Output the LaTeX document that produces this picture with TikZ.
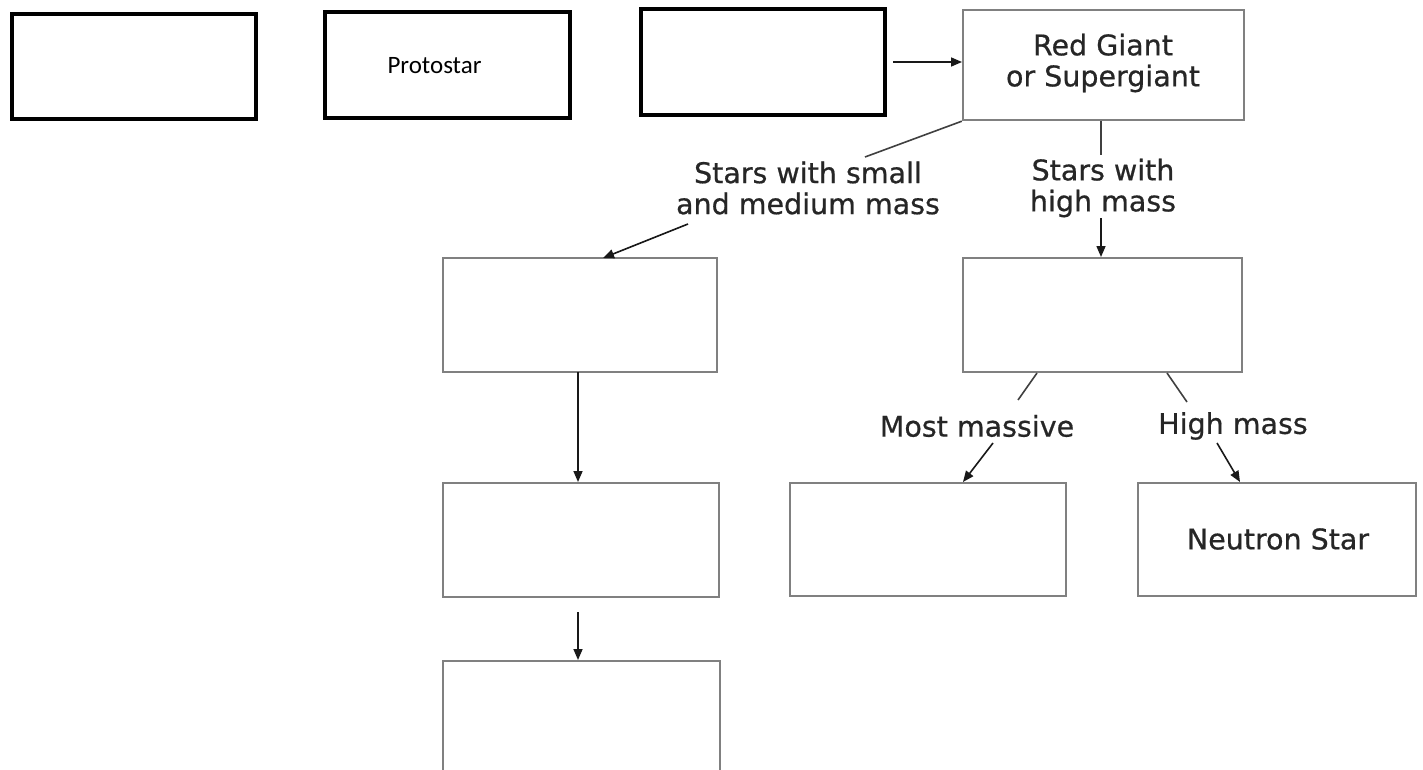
\documentclass[tikz,border=0pt]{standalone}
\usepackage{fontspec}
\setmainfont{DejaVu Sans}
\newfontfamily\lblfont[FakeBold=0.6]{DejaVu Sans}
\newfontfamily\calib{Carlito}
\usetikzlibrary{arrows.meta}
\tikzset{
  thickbox/.style={draw=black, line width=4pt, inner sep=0pt},
  graybox/.style={draw=black!50, line width=2.4pt, inner sep=0pt, fill=white},
  lbl/.style={align=center, font=\lblfont\fontsize{28.5}{31}\selectfont, text=black!85, inner sep=0pt},
  conn/.style={draw=black!75, line width=1.6pt},
  arr/.style={draw=black!90, line width=1.6pt, -{Triangle[length=11pt,width=9pt]}},
}
\begin{document}
\begin{tikzpicture}[x=1pt,y=-1pt]
\useasboundingbox (0,0) rectangle (1423,770);
\clip (0,0) rectangle (1423,770);
\fill[white] (0,0) rectangle (1423,770);
% top row
\node[thickbox, minimum width=244pt, minimum height=105pt] (b1) at (134,66.5) {};
\node[thickbox, minimum width=245pt, minimum height=106pt] (b2) at (447.5,65) {};
\node[font=\calib\fontsize{25}{30}\selectfont, inner sep=0pt] (pt) at (434.5,66) {Protostar};
\node[thickbox, minimum width=244pt, minimum height=106pt] (b3) at (763,62) {};
\node[graybox, minimum width=281pt, minimum height=110pt] (rg) at (1103.5,65) {};
\node[lbl] (rgt) at (1103,63) {Red Giant\\or Supergiant};
% second row
\node[graybox, minimum width=274pt, minimum height=114pt] (l1) at (580,315) {};
\node[graybox, minimum width=279pt, minimum height=114pt] (r1) at (1102.5,315) {};
% third row
\node[graybox, minimum width=276pt, minimum height=114pt] (l2) at (581,540) {};
\node[graybox, minimum width=276pt, minimum height=113pt] (r2) at (928,539.5) {};
\node[graybox, minimum width=278pt, minimum height=113pt] (r3) at (1277,539.5) {};
\node[lbl] (nst) at (1278,539) {Neutron Star};
% fourth row
\node[graybox, minimum width=277pt, minimum height=130pt] (l3) at (581.5,726) {};
% labels
\node[lbl] (lsm) at (808,188) {Stars with small\\and medium mass};
\node[lbl] (lhm) at (1103,188) {Stars with\\high mass};
\node[lbl] (lmm) at (977,426) {Most massive};
\node[lbl] (lhi) at (1233,426) {High mass};
% coordinates
\coordinate (p1) at (865,157);
\coordinate (p2) at (688,224);
\coordinate (p3) at (603,258);
\coordinate (q0) at (1101,121);
\coordinate (q1) at (1101,155);
\coordinate (q2) at (1101,218);
\coordinate (q3) at (1101,257);
\coordinate (s0) at (578,372);
\coordinate (s1) at (578,482);
\coordinate (t0) at (578,612);
\coordinate (t1) at (578,660);
\coordinate (m0) at (1037,373);
\coordinate (m1) at (1018,400);
\coordinate (m2) at (993,443);
\coordinate (m3) at (963,482);
\coordinate (h0) at (1167,373);
\coordinate (h1) at (1187,402);
\coordinate (h2) at (1217,443);
\coordinate (h3) at (1240,482);
\coordinate (g0) at (893,62);
\coordinate (g1) at (962,62);
% connectors
\draw[arr] (g0) -- (g1);
\draw[conn] (rg.south west) -- (p1);
\draw[arr] (p2) -- (p3);
\draw[conn] (q0) -- (q1);
\draw[arr] (q2) -- (q3);
\draw[arr] (s0) -- (s1);
\draw[arr] (t0) -- (t1);
\draw[conn] (m0) -- (m1);
\draw[arr] (m2) -- (m3);
\draw[conn] (h0) -- (h1);
\draw[arr] (h2) -- (h3);
\end{tikzpicture}
\end{document}
